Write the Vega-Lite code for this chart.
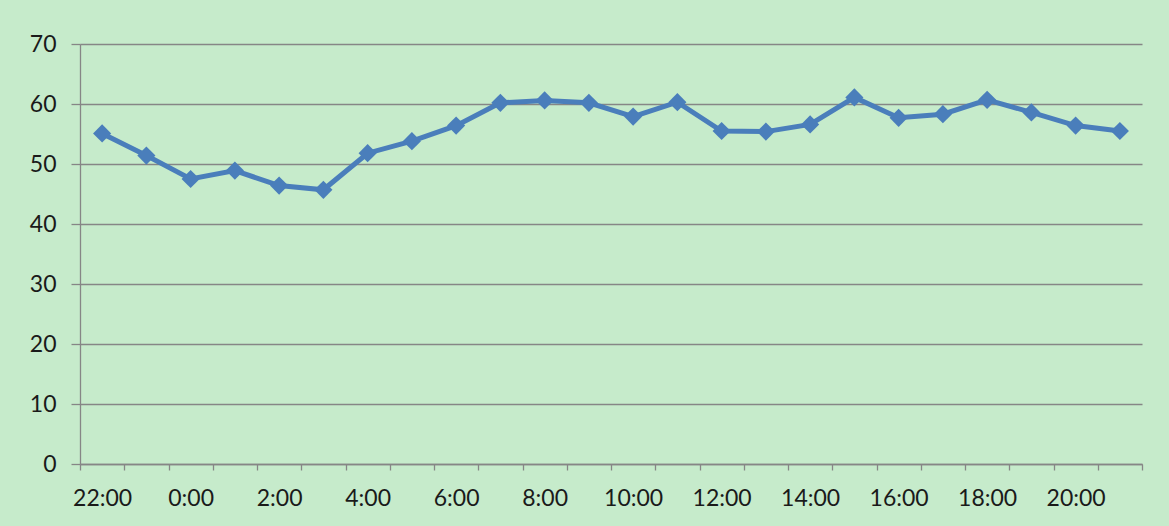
{
  "$schema": "https://vega.github.io/schema/vega-lite/v6.json",
  "autosize": "none",
  "width": 1062,
  "height": 420,
  "padding": {"left": 80, "top": 44, "right": 27, "bottom": 62},
  "background": "#C6EBCB",
  "config": {
    "view": {"stroke": null},
    "axis": {
      "labelFont": "Lato",
      "labelFontSize": 23,
      "labelColor": "#1A1A1A",
      "domainColor": "#868686",
      "tickColor": "#868686",
      "gridColor": "#868686",
      "domainWidth": 1.3,
      "tickWidth": 1.3,
      "gridWidth": 1.3,
      "gridOpacity": 1,
      "title": null
    }
  },
  "data": {
    "values": [
      {"time": "22:00", "value": 55.1},
      {"time": "23:00", "value": 51.4},
      {"time": "0:00", "value": 47.5},
      {"time": "1:00", "value": 48.9},
      {"time": "2:00", "value": 46.4},
      {"time": "3:00", "value": 45.7},
      {"time": "4:00", "value": 51.8},
      {"time": "5:00", "value": 53.8},
      {"time": "6:00", "value": 56.4},
      {"time": "7:00", "value": 60.2},
      {"time": "8:00", "value": 60.6},
      {"time": "9:00", "value": 60.2},
      {"time": "10:00", "value": 57.9},
      {"time": "11:00", "value": 60.3},
      {"time": "12:00", "value": 55.5},
      {"time": "13:00", "value": 55.4},
      {"time": "14:00", "value": 56.6},
      {"time": "15:00", "value": 61.1},
      {"time": "16:00", "value": 57.7},
      {"time": "17:00", "value": 58.3},
      {"time": "18:00", "value": 60.7},
      {"time": "19:00", "value": 58.6},
      {"time": "20:00", "value": 56.4},
      {"time": "21:00", "value": 55.5}
    ]
  },
  "encoding": {
    "x": {
      "field": "time",
      "type": "ordinal",
      "sort": null,
      "scale": {"paddingInner": 0, "paddingOuter": 0},
      "axis": {
        "tickBand": "extent",
        "tickSize": 6,
        "labelPadding": 17,
        "labelAngle": 0,
        "labelOverlap": false,
        "grid": false,
        "labelExpr": "toNumber(split(datum.value, ':')[0]) % 2 == 0 ? datum.value : ''"
      }
    },
    "y": {
      "field": "value",
      "type": "quantitative",
      "scale": {"domain": [0, 70], "nice": false, "zero": true},
      "axis": {
        "values": [0, 10, 20, 30, 40, 50, 60, 70],
        "grid": true,
        "tickSize": 9,
        "labelPadding": 15
      }
    }
  },
  "layer": [
    {"mark": {"type": "line", "color": "#4A7EBB", "strokeWidth": 5}},
    {"mark": {"type": "point", "shape": "diamond", "filled": true, "size": 330, "color": "#4A7EBB", "opacity": 1}}
  ]
}
